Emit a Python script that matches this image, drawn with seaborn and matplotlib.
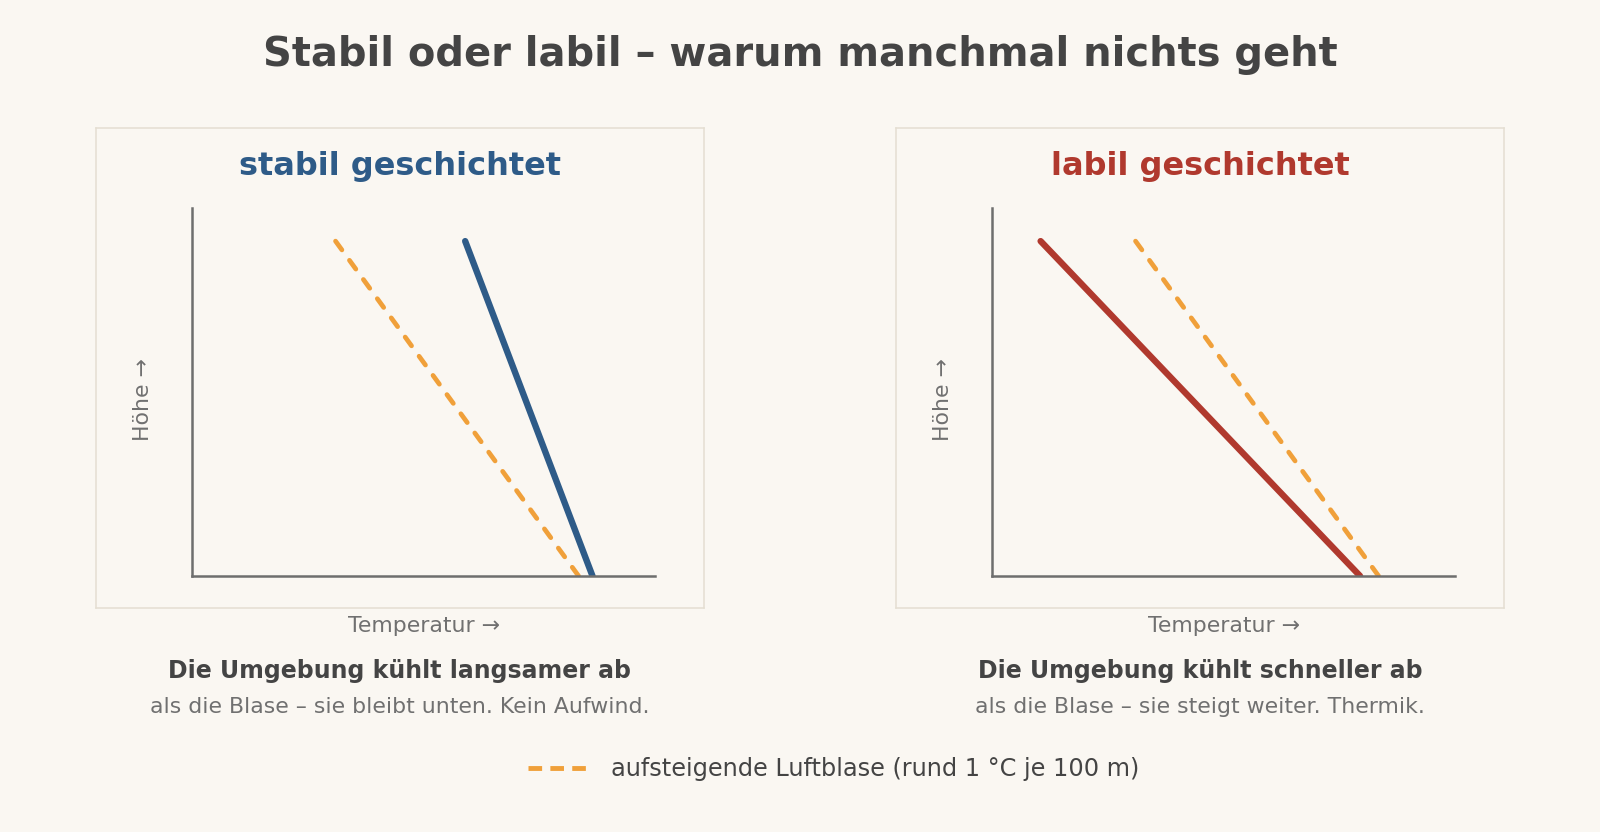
import matplotlib
matplotlib.use("Agg")
import matplotlib.pyplot as plt
from matplotlib.lines import Line2D
import seaborn as sns

# Werte (Achsen 0..10, nur schematisch), von oben nach unten
hoehe = [9.1, 0]
blase_temp = [3.1, 8.35]
stabil_temp = [5.9, 8.65]
labil_temp = [1.05, 7.95]

panel_titles = ["stabil geschichtet", "labil geschichtet"]
panel_env = [stabil_temp, labil_temp]
panel_colors = ["#2e5b88", "#b0392e"]
captions = ["Die Umgebung kühlt langsamer ab", "Die Umgebung kühlt schneller ab"]
subcaptions = ["als die Blase – sie bleibt unten. Kein Aufwind.",
               "als die Blase – sie steigt weiter. Thermik."]
legend_label = "aufsteigende Luftblase (rund 1 °C je 100 m)"

BG = "#faf7f2"
ORANGE = "#f0a03a"
AXIS = "#6e6e6e"
DARK = "#444444"
GREY = "#707070"

sns.set_theme(style="white")
plt.rcParams["font.family"] = ["DejaVu Sans"]

W, H = 1600, 832
fig = plt.figure(figsize=(16, 8.32), dpi=100, facecolor=BG)

fig.text(800 / W, 1 - 55 / H, "Stabil oder labil – warum manchmal nichts geht",
         ha="center", va="center", fontsize=28.8, fontweight="bold", color=DARK)

for i in range(2):
    x0 = 96 + i * 800
    # Rahmen des Panels
    box = fig.add_axes([x0 / W, 1 - 608 / H, 608 / W, 480 / H])
    box.set_facecolor(BG)
    box.set_xticks([])
    box.set_yticks([])
    for sp in box.spines.values():
        sp.set_color("#e4ded2")
        sp.set_linewidth(1.1)

    ax = fig.add_axes([(x0 + 96) / W, 1 - 576 / H, 463 / W, 368 / H])
    ax.patch.set_alpha(0)
    sns.lineplot(x=blase_temp, y=hoehe, ax=ax, sort=False, color=ORANGE,
                 linewidth=3.4, linestyle=(0, (2.3, 2.72)),
                 dash_capstyle="round")
    sns.lineplot(x=panel_env[i], y=hoehe, ax=ax, sort=False,
                 color=panel_colors[i], linewidth=4.6,
                 solid_capstyle="round")
    ax.set_xlim(0, 10)
    ax.set_ylim(0, 10)
    ax.set_xticks([])
    ax.set_yticks([])
    ax.set_xlabel("")
    ax.set_ylabel("")
    for side in ["top", "right"]:
        ax.spines[side].set_visible(False)
    for side in ["left", "bottom"]:
        ax.spines[side].set_color(AXIS)
        ax.spines[side].set_linewidth(1.8)

    cx = (x0 + 304) / W
    fig.text(cx, 1 - 167 / H, panel_titles[i], ha="center", va="center",
             fontsize=23, fontweight="bold", color=panel_colors[i])
    fig.text((x0 + 47) / W, 1 - 400 / H, "Höhe →", rotation=90,
             ha="center", va="center", fontsize=15.8, color=GREY)
    fig.text((x0 + 328) / W, 1 - 626 / H, "Temperatur →", ha="center",
             va="center", fontsize=15.8, color=GREY)
    fig.text(cx, 1 - 671 / H, captions[i], ha="center", va="center",
             fontsize=17, fontweight="bold", color=DARK)
    fig.text(cx, 1 - 707 / H, subcaptions[i], ha="center", va="center",
             fontsize=15.8, color=GREY)

handle = Line2D([], [], color=ORANGE, linewidth=3.5,
                linestyle=(0, (2.8, 1.7)), dash_capstyle="butt")
fig.legend([handle], [legend_label], loc="center left",
           bbox_to_anchor=(528 / W, 1 - 769 / H), frameon=False,
           fontsize=17.3, handlelength=2.46, handletextpad=1.0,
           borderpad=0, borderaxespad=0, labelcolor=DARK)

fig.savefig("out.png", dpi=100, facecolor=BG)
